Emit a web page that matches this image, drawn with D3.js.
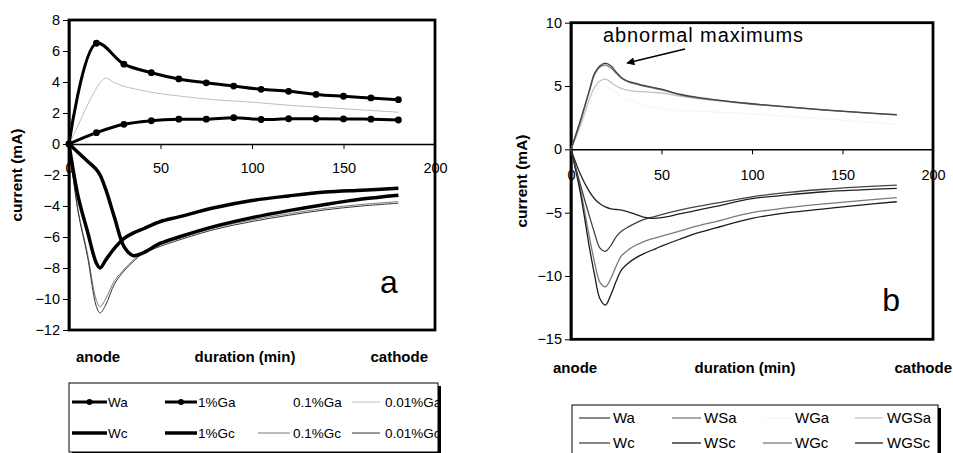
<!DOCTYPE html>
<html>
<head>
<meta charset="utf-8">
<script src="https://cdn.jsdelivr.net/npm/d3@7"></script>
<style>
  body { margin: 0; background: #fff; }
  svg { display: block; font-family: "Liberation Sans", Arial, sans-serif; }
</style>
</head>
<body>
<svg id="chart" width="953" height="453"></svg>
<script>

// ---- panel a: markers every 15 min ----
const timeMarkA = [0, 15, 30, 45, 60, 75, 90, 105, 120, 135, 150, 165, 180];
const aWa   = [0, 6.5, 5.15, 4.6, 4.2, 3.95, 3.74, 3.53, 3.4, 3.2, 3.08, 2.97, 2.86];
const aGa1  = [0, 0.73, 1.27, 1.5, 1.6, 1.6, 1.7, 1.58, 1.63, 1.63, 1.62, 1.6, 1.55];

// ---- panel a: smooth series ----
const timeA   = [0, 5, 10, 15, 17, 20, 25, 30, 35, 40, 50, 60, 80, 100, 120, 140, 160, 180];
const aGa01   = [0, 1.6, 3.3, 4.6, 4.9, 4.8, 4.4, 4.1, 3.9, 3.7, 3.45, 3.3, 3.05, 2.85, 2.65, 2.45, 2.3, 2.15];
const aGa001  = [0, 1.2, 2.5, 3.6, 3.95, 4.25, 3.95, 3.72, 3.58, 3.45, 3.25, 3.1, 2.85, 2.7, 2.5, 2.35, 2.2, 2.05];
const aWc     = [0, -3.4, -5.6, -7.7, -8.0, -7.5, -6.7, -6.1, -5.75, -5.5, -5.0, -4.7, -4.1, -3.65, -3.35, -3.1, -2.98, -2.86];
const aGc1    = [0, -0.55, -1.1, -1.65, -2.0, -2.9, -4.8, -6.6, -7.2, -7.05, -6.4, -6.0, -5.3, -4.75, -4.3, -3.9, -3.55, -3.3];
const aGc01   = [0, -4.3, -7.0, -10.1, -10.5, -10.0, -8.8, -8.1, -7.5, -7.0, -6.5, -6.1, -5.4, -4.9, -4.5, -4.15, -3.9, -3.72];
const aGc001  = [0, -4.4, -7.2, -10.5, -10.9, -10.4, -9.0, -8.2, -7.6, -7.1, -6.6, -6.2, -5.5, -5.0, -4.6, -4.25, -4.0, -3.82];

// ---- panel b ----
const timeB  = [0, 5, 10, 13, 16, 19, 22, 25, 28, 32, 36, 40, 45, 50, 60, 70, 80, 100, 120, 140, 160, 180];
const bWa    = [0, 2.2, 4.6, 6.0, 6.6, 6.8, 6.6, 6.1, 5.65, 5.35, 5.2, 5.05, 4.9, 4.75, 4.35, 4.1, 3.9, 3.6, 3.35, 3.12, 2.92, 2.74];
const bWSa   = [0, 2.1, 4.5, 5.9, 6.5, 6.65, 6.45, 6.0, 5.6, 5.3, 5.15, 5.0, 4.85, 4.7, 4.3, 4.05, 3.88, 3.58, 3.33, 3.1, 2.9, 2.72];
const bWGa   = [0, 1.6, 3.5, 4.4, 4.9, 5.0, 4.8, 4.5, 4.2, 3.9, 3.7, 3.5, 3.35, 3.2, 3.05, 3.0, 2.95, 2.8, 2.6, 2.4, 2.2, 2.0];
const bWGSa  = [0, 1.8, 3.9, 4.9, 5.4, 5.55, 5.3, 5.0, 4.8, 4.65, 4.58, 4.55, 4.5, 4.45, 4.2, 4.0, 3.85, 3.55, 3.33, 3.1, 2.9, 2.7];
const bWc    = [0, -2.7, -5.2, -6.6, -7.8, -8.05, -7.6, -6.9, -6.45, -6.1, -5.8, -5.55, -5.35, -5.15, -4.8, -4.5, -4.25, -3.75, -3.4, -3.15, -2.97, -2.82];
const bWSc   = [0, -3.3, -7.6, -9.9, -11.8, -12.3, -11.5, -10.4, -9.5, -8.95, -8.55, -8.25, -7.95, -7.65, -7.1, -6.6, -6.2, -5.45, -5.0, -4.7, -4.4, -4.14];
const bWGc   = [0, -3.0, -6.8, -8.9, -10.5, -10.85, -10.2, -9.2, -8.4, -7.9, -7.55, -7.3, -7.05, -6.85, -6.45, -6.05, -5.7, -5.0, -4.6, -4.3, -4.05, -3.82];
const bWGSc  = [0, -1.9, -3.3, -3.9, -4.3, -4.55, -4.7, -4.75, -4.8, -4.95, -5.15, -5.35, -5.45, -5.4, -5.1, -4.8, -4.5, -3.9, -3.6, -3.35, -3.2, -3.08];

const xTicks = [0, 50, 100, 150, 200];
const yTicksA = [-12, -10, -8, -6, -4, -2, 0, 2, 4, 6, 8];
const yTicksB = [-15, -10, -5, 0, 5, 10];

const svg = d3.select("#chart");

const panels = [
  {
    frame: {left: 69, right: 435, top: 20, bottom: 330},
    yDomain: [-12, 8], yTicks: yTicksA, labelPad: 13.5,
    frameWidth: 2.8,
    letter: "a", letterAt: [170, -9.6],
    series: [
      {name: "Wa",      t: timeMarkA, v: aWa,    color: "#000", width: 3,   marker: true},
      {name: "1%Ga",    t: timeMarkA, v: aGa1,   color: "#000", width: 3,   marker: true},
      {name: "0.1%Ga",  t: timeA,     v: aGa01,  color: "#fff", width: 1},
      {name: "0.01%Ga", t: timeA,     v: aGa001, color: "#bdbdbd", width: 1},
      {name: "Wc",      t: timeA,     v: aWc,    color: "#000", width: 3.5},
      {name: "1%Gc",    t: timeA,     v: aGc1,   color: "#000", width: 3.5},
      {name: "0.1%Gc",  t: timeA,     v: aGc01,  color: "#777", width: 1},
      {name: "0.01%Gc", t: timeA,     v: aGc001, color: "#333", width: 1}
    ],
    order: ["0.1%Ga", "0.01%Ga", "0.1%Gc", "0.01%Gc", "1%Gc", "Wc", "1%Ga", "Wa"],
    under: "0.1%Ga",
    titleX: 17, axisLabelY: 362, ends: [76, 245, 428],
    legend: {box: [69, 383, 438, 452], rows: [402, 433], cols: [72, 165, 258, 352], lineLen: [35, 32, 32, 28],
             labelX: [108, 198, 293, 385], font: 13.5},
    legendRows: [["Wa", "1%Ga", "0.1%Ga", "0.01%Ga"], ["Wc", "1%Gc", "0.1%Gc", "0.01%Gc"]]
  },
  {
    frame: {left: 571, right: 933, top: 22.7, bottom: 339.3},
    yDomain: [-15, 10], yTicks: yTicksB, labelPad: 15.5,
    frameWidth: 2.8,
    letter: "b", letterAt: [172, -12.8],
    series: [
      {name: "Wa",   t: timeB, v: bWa,   color: "#444", width: 1.3},
      {name: "WSa",  t: timeB, v: bWSa,  color: "#7a7a7a", width: 1.3},
      {name: "WGa",  t: timeB, v: bWGa,  color: "#f7f7f7", width: 1.3},
      {name: "WGSa", t: timeB, v: bWGSa, color: "#c4c4c4", width: 1.3},
      {name: "Wc",   t: timeB, v: bWc,   color: "#444", width: 1.3},
      {name: "WSc",  t: timeB, v: bWSc,  color: "#1a1a1a", width: 1.3},
      {name: "WGc",  t: timeB, v: bWGc,  color: "#7a7a7a", width: 1.3},
      {name: "WGSc", t: timeB, v: bWGSc, color: "#222", width: 1.3}
    ],
    order: ["WGa", "WGSa", "WSa", "Wa", "WGc", "WSc", "Wc", "WGSc"],
    under: "WGa",
    titleX: 522, axisLabelY: 373, ends: [553, 745, 952],
    legend: {box: [572, 405, 938, 470], rows: [418, 443], cols: [579, 672, 763, 855], lineLen: [31, 29, 29, 28],
             labelX: [613, 704, 795, 887], font: 15},
    legendRows: [["Wa", "WSa", "WGa", "WGSa"], ["Wc", "WSc", "WGc", "WGSc"]],
    note: {text: "abnormal maximums", at: [17.7, 8.5], from: [63, 7.92], to: [31, 6.82]}
  }
];

svg.append("defs").append("marker")
  .attr("id", "arrow")
  .attr("viewBox", "0 0 10 10")
  .attr("refX", 9).attr("refY", 5)
  .attr("markerWidth", 13).attr("markerHeight", 8)
  .attr("markerUnits", "userSpaceOnUse")
  .attr("orient", "auto")
  .append("path")
    .attr("d", "M0,0 L10,5 L0,10 Z")
    .attr("fill", "#000");

panels.forEach((p, pi) => {

  const f = p.frame;
  const x = d3.scaleLinear().domain([0, 200]).range([f.left, f.right]);
  const y = d3.scaleLinear().domain(p.yDomain).range([f.bottom, f.top]);
  const byName = new Map(p.series.map(s => [s.name, s]));
  const g = svg.append("g");

  const line = (s) => d3.line()
    .x((d, i) => x(s.t[i]))
    .y(d => y(d))
    .curve(s.marker ? d3.curveCatmullRom.alpha(0.5) : d3.curveCatmullRom.alpha(0.5))(s.v);

  const drawSeries = (s) => {
    g.append("path")
      .attr("d", line(s))
      .attr("fill", "none")
      .attr("stroke", s.color)
      .attr("stroke-width", s.width)
      .attr("stroke-linejoin", "round");
    if (s.marker) {
      g.append("g")
        .selectAll("circle")
        .data(s.v)
        .join("circle")
          .attr("cx", (d, i) => x(s.t[i]))
          .attr("cy", d => y(d))
          .attr("r", 3.4)
          .attr("fill", s.color);
    }
  };

  // the white series sits behind everything
  drawSeries(byName.get(p.under));

  // frame
  g.append("rect")
    .attr("x", f.left).attr("y", f.top)
    .attr("width", f.right - f.left).attr("height", f.bottom - f.top)
    .attr("fill", "none")
    .attr("stroke", "#000")
    .attr("stroke-width", p.frameWidth);

  // y axis
  const yAxis = g.append("g")
    .attr("transform", `translate(${f.left},0)`)
    .call(d3.axisLeft(y).tickValues(p.yTicks).tickSize(6).tickSizeOuter(0).tickPadding(3));
  yAxis.select(".domain").attr("stroke-width", 2);
  yAxis.selectAll("text").attr("font-size", 14.5).attr("fill", "#000");
  yAxis.attr("font-family", null);

  // x axis on the zero line
  const xAxis = g.append("g")
    .attr("transform", `translate(0,${y(0)})`)
    .call(d3.axisBottom(x).tickValues(xTicks).tickSize(5).tickSizeOuter(0).tickPadding(p.labelPad));
  xAxis.select(".domain").attr("stroke-width", 1.5);
  xAxis.selectAll("text").attr("font-size", 14.5).attr("fill", "#000");
  xAxis.attr("font-family", null);

  p.order.filter(n => n !== p.under).forEach(n => drawSeries(byName.get(n)));

  // y title
  g.append("text")
    .attr("transform", `translate(${p.titleX},${(f.top + f.bottom) / 2}) rotate(-90)`)
    .attr("text-anchor", "middle")
    .attr("dy", "0.35em")
    .attr("font-size", 15.5)
    .attr("font-weight", "bold")
    .text("current (mA)");

  // bottom labels
  const ends = [["anode", "start"], ["duration (min)", "middle"], ["cathode", "end"]];
  ends.forEach(([txt, anchor], i) => {
    g.append("text")
      .attr("x", p.ends[i])
      .attr("y", p.axisLabelY)
      .attr("text-anchor", anchor)
      .attr("font-size", 15)
      .attr("font-weight", "bold")
      .text(txt);
  });

  // panel letter
  g.append("text")
    .attr("x", x(p.letterAt[0]))
    .attr("y", y(p.letterAt[1]))
    .attr("font-size", 32)
    .text(p.letter);

  // annotation
  if (p.note) {
    g.append("text")
      .attr("x", x(p.note.at[0]))
      .attr("y", y(p.note.at[1]))
      .attr("font-size", 20)
      .attr("textLength", 200)
      .text(p.note.text);
    g.append("line")
      .attr("x1", x(p.note.from[0])).attr("y1", y(p.note.from[1]))
      .attr("x2", x(p.note.to[0])).attr("y2", y(p.note.to[1]))
      .attr("stroke", "#000")
      .attr("stroke-width", 1.5)
      .attr("marker-end", "url(#arrow)");
  }

  // legend
  const L = p.legend;
  const [bx0, by0, bx1, by1] = L.box;
  svg.append("clipPath").attr("id", "legclip" + pi)
    .append("rect").attr("x", bx0).attr("y", by0).attr("width", bx1 - bx0).attr("height", by1 - by0);

  g.append("rect")
    .attr("x", bx0 + 3).attr("y", by0 + 3)
    .attr("width", bx1 - bx0).attr("height", by1 - by0)
    .attr("fill", "#000");
  g.append("rect")
    .attr("x", bx0).attr("y", by0)
    .attr("width", bx1 - bx0).attr("height", by1 - by0)
    .attr("fill", "#fff")
    .attr("stroke", "#000")
    .attr("stroke-width", 1);

  const lg = g.append("g").attr("clip-path", `url(#legclip${pi})`);
  p.legendRows.forEach((row, ri) => {
    row.forEach((name, ci) => {
      const s = byName.get(name);
      const yy = L.rows[ri];
      const x0 = L.cols[ci], x1 = x0 + L.lineLen[ci];
      lg.append("line")
        .attr("x1", x0).attr("x2", x1)
        .attr("y1", yy).attr("y2", yy)
        .attr("stroke", s.color)
        .attr("stroke-width", s.width);
      if (s.marker) {
        lg.append("circle")
          .attr("cx", (x0 + x1) / 2).attr("cy", yy).attr("r", 3)
          .attr("fill", s.color);
      }
      lg.append("text")
        .attr("x", L.labelX[ci])
        .attr("y", yy)
        .attr("dy", "0.35em")
        .attr("font-size", L.font)
        .text(name);
    });
  });
});

</script>
</body>
</html>
